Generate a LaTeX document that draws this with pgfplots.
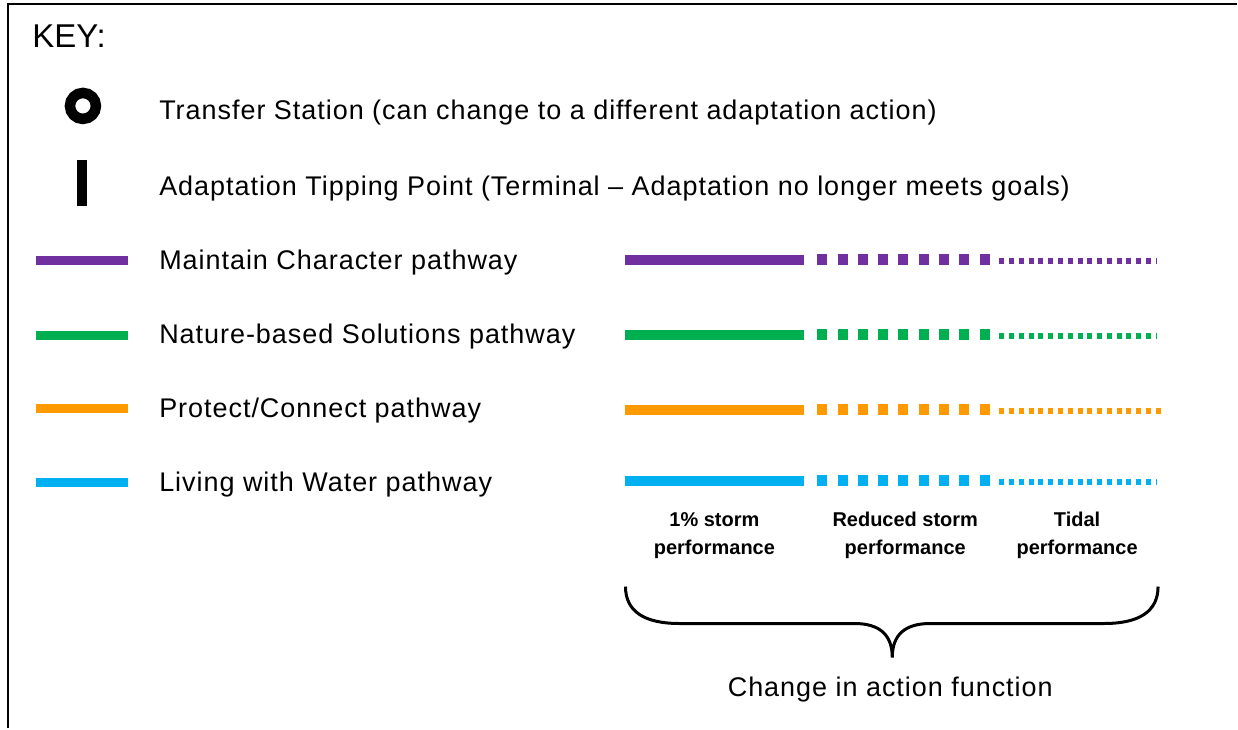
\documentclass[border=0pt]{standalone}
\usepackage{pgfplots}
\pgfplotsset{compat=1.18}
\usepackage{fontspec}
\setmainfont{Liberation Sans}
\newfontfamily\keyfont[LetterSpace=3.6]{Liberation Sans}
\definecolor{cpurple}{HTML}{7030A0}
\definecolor{cgreen}{HTML}{00B050}
\definecolor{corange}{HTML}{FF9900}
\definecolor{ccyan}{HTML}{00B0F0}
\begin{document}
\begin{tikzpicture}
\begin{axis}[
  width=619pt, height=364.5pt, scale only axis,
  xmin=0, xmax=1238, ymin=0, ymax=729, y dir=reverse,
  hide axis, clip=false,
]
% frame
\path[draw=none] (axis cs:0,0) rectangle (axis cs:1238,729);
\addplot[black, line width=1pt] coordinates {(8,729) (8,4) (1238,4)};
% title
\node[anchor=west, font=\fontsize{16.5pt}{18pt}\selectfont, inner sep=0pt] at (axis cs:32,36) {KEY:};
% transfer station
\addplot[only marks, mark=*, mark size=6.5pt, mark options={draw=black, fill=white, line width=5.25pt}] coordinates {(83,106)};
\node[anchor=west, font=\keyfont\fontsize{13.5pt}{16pt}\selectfont, inner sep=0pt] at (axis cs:159,113) {Transfer Station (can change to a different adaptation action)};
% tipping point
\addplot[black, line width=5pt] coordinates {(82,160) (82,206)};
\node[anchor=west, font=\keyfont\fontsize{13.5pt}{16pt}\selectfont, inner sep=0pt] at (axis cs:159,189) {Adaptation Tipping Point (Terminal – Adaptation no longer meets goals)};
% legend swatches
\addplot[cpurple, line width=4.5pt] coordinates {(36,261) (128,261)};
\addplot[cgreen, line width=4.5pt] coordinates {(36,336) (128,336)};
\addplot[corange, line width=4.5pt] coordinates {(36,409) (128,409)};
\addplot[ccyan, line width=4.5pt] coordinates {(36,483) (128,483)};
\node[anchor=west, font=\keyfont\fontsize{13.5pt}{16pt}\selectfont, inner sep=0pt] at (axis cs:159,263) {Maintain Character pathway};
\node[anchor=west, font=\keyfont\fontsize{13.5pt}{16pt}\selectfont, inner sep=0pt] at (axis cs:159,337) {Nature-based Solutions pathway};
\node[anchor=west, font=\keyfont\fontsize{13.5pt}{16pt}\selectfont, inner sep=0pt] at (axis cs:159,411) {Protect/Connect pathway};
\node[anchor=west, font=\keyfont\fontsize{13.5pt}{16pt}\selectfont, inner sep=0pt] at (axis cs:159,485) {Living with Water pathway};
% right-hand pathway styles
\addplot[cpurple, line width=5pt] coordinates {(626,260) (805,260)};
\addplot[cpurple, line width=5.5pt, dash pattern=on 5pt off 5.15pt] coordinates {(818,260) (991,260)};
\addplot[cpurple, line width=3pt, dash pattern=on 2.5pt off 2.4pt] coordinates {(1000,261) (1158,261)};
\addplot[cgreen, line width=5pt] coordinates {(626,335) (805,335)};
\addplot[cgreen, line width=5.5pt, dash pattern=on 5pt off 5.15pt] coordinates {(818,335) (991,335)};
\addplot[cgreen, line width=3pt, dash pattern=on 2.5pt off 2.4pt] coordinates {(1000,336) (1158,336)};
\addplot[corange, line width=5pt] coordinates {(626,410) (805,410)};
\addplot[corange, line width=5.5pt, dash pattern=on 5pt off 5.15pt] coordinates {(818,410) (991,410)};
\addplot[corange, line width=3pt, dash pattern=on 2.5pt off 2.4pt] coordinates {(1000,411) (1163,411)};
\addplot[ccyan, line width=5pt] coordinates {(626,481) (805,481)};
\addplot[ccyan, line width=5.5pt, dash pattern=on 5pt off 5.15pt] coordinates {(818,481) (991,481)};
\addplot[ccyan, line width=3pt, dash pattern=on 2.5pt off 2.4pt] coordinates {(1000,482) (1158,482)};
% function labels
\node[align=center, font=\fontsize{10pt}{14pt}\selectfont\bfseries, inner sep=0pt] at (axis cs:715,536) {1\% storm\\performance};
\node[align=center, font=\fontsize{10pt}{14pt}\selectfont\bfseries, inner sep=0pt] at (axis cs:906,536) {Reduced storm\\performance};
\node[align=center, font=\fontsize{10pt}{14pt}\selectfont\bfseries, inner sep=0pt] at (axis cs:1078,536) {Tidal\\performance};
% brace
\draw[black, line width=1.5pt] (axis cs:626,587) .. controls (axis cs:626,612) and (axis cs:645,624) .. (axis cs:680,624) -- (axis cs:855,624) .. controls (axis cs:880,624) and (axis cs:893,635) .. (axis cs:893,658) .. controls (axis cs:893,635) and (axis cs:906,624) .. (axis cs:931,624) -- (axis cs:1105,624) .. controls (axis cs:1140,624) and (axis cs:1159,612) .. (axis cs:1159,587);
\node[font=\keyfont\fontsize{13.5pt}{16pt}\selectfont, inner sep=0pt] at (axis cs:891,690) {Change in action function};
\end{axis}
\end{tikzpicture}
\end{document}
